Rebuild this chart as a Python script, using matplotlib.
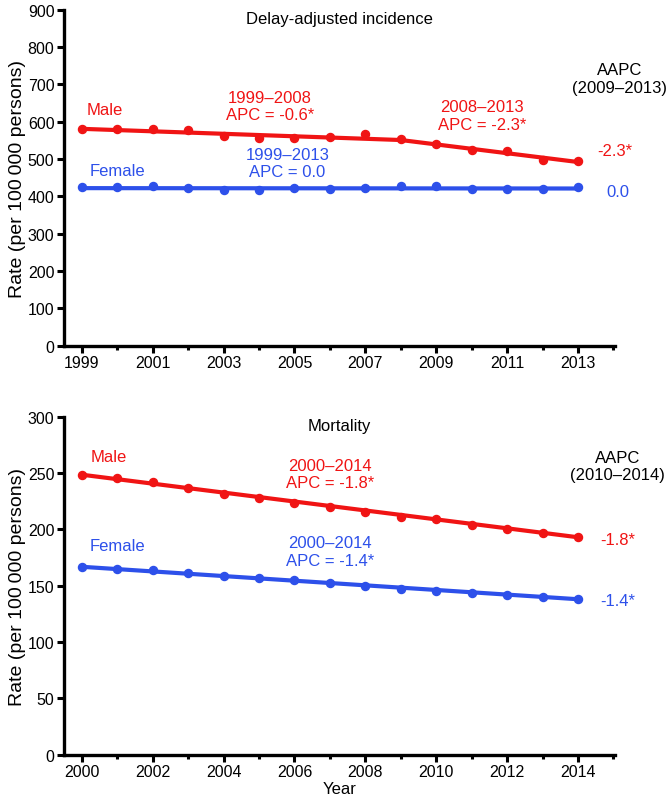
import matplotlib

matplotlib.use("Agg")
import matplotlib.pyplot as plt
from matplotlib.ticker import MultipleLocator

plt.rcParams["font.family"] = ["Liberation Sans", "DejaVu Sans"]

RED = "#f01414"
BLUE = "#2d50ea"

# incidence (delay-adjusted), rate per 100 000
inc_years = list(range(1999, 2014))
inc_male = [580, 580, 581, 578, 562, 557, 556, 559, 566, 553, 541, 525, 521, 497, 494]
inc_female = [426, 426, 428, 423, 418, 418, 422, 421, 422, 427, 427, 419, 420, 421, 425]
inc_male_fit_years = [1999, 2008, 2013]
inc_male_fit = [581, 551, 492]
inc_female_fit_years = [1999, 2013]
inc_female_fit = [422, 421]

# mortality, rate per 100 000
mort_years = list(range(2000, 2015))
mort_male = [248.5, 245.6, 242.4, 236.4, 231.1, 228.1, 223.4, 219.6,
             215.7, 211.3, 208.9, 204.2, 200.6, 196.5, 193.3]
mort_female = [166.9, 164.9, 163.7, 161.3, 158.4, 156.9, 154.8, 152.2,
               149.7, 147.3, 145.5, 143.5, 141.4, 140.2, 138.2]
mort_male_fit_years = [2000, 2014]
mort_male_fit = [248.5, 193.0]
mort_female_fit_years = [2000, 2014]
mort_female_fit = [166.8, 138.0]

YLABEL = "Rate (per 100\u2009000 persons)"
FS = 12


def style_axes(ax, xlim, ylim, ystep, xticks):
    ax.set_xlim(*xlim)
    ax.set_ylim(*ylim)
    for side in ("top", "right"):
        ax.spines[side].set_visible(False)
    for side in ("left", "bottom"):
        ax.spines[side].set_linewidth(2.4)
    ax.yaxis.set_major_locator(MultipleLocator(ystep))
    ax.set_xticks(xticks)
    ax.xaxis.set_minor_locator(MultipleLocator(1))
    ax.tick_params(which="major", length=5, width=2.2, labelsize=11.5, pad=2)
    ax.tick_params(which="minor", length=3, width=2.2)
    ax.tick_params(axis="y", which="minor", length=0)
    ax.set_ylabel(YLABEL, fontsize=14, labelpad=1)


def label(ax, x, y, s, color="black"):
    ax.text(x, y, s, color=color, ha="center", va="center", fontsize=FS,
            linespacing=1.2, clip_on=False)


fig = plt.figure(figsize=(6.68, 8.04), dpi=100)
ax1 = fig.add_axes([0.096, 0.569, 0.825, 0.4175])
ax2 = fig.add_axes([0.096, 0.060, 0.825, 0.4205])

# top panel: incidence
ax1.plot(inc_male_fit_years, inc_male_fit, color=RED, lw=3, solid_capstyle="round")
ax1.plot(inc_female_fit_years, inc_female_fit, color=BLUE, lw=3, solid_capstyle="round")
ax1.plot(inc_years, inc_male, "o", color=RED, ms=5.8)
ax1.plot(inc_years, inc_female, "o", color=BLUE, ms=5.8)
style_axes(ax1, (1998.5, 2014.05), (0, 900), 100, range(1999, 2014, 2))

ax1.text(0.5, 0.975, "Delay-adjusted incidence", transform=ax1.transAxes,
         ha="center", va="center", fontsize=FS)
label(ax1, 1999.65, 634, "Male", RED)
label(ax1, 2000.0, 469, "Female", BLUE)
label(ax1, 2004.3, 643, "1999\u20132008\nAPC = -0.6*", RED)
label(ax1, 2004.8, 489, "1999\u20132013\nAPC = 0.0", BLUE)
label(ax1, 2010.3, 617, "2008\u20132013\nAPC = -2.3*", RED)
label(ax1, 2014.18, 716, "AAPC\n(2009\u20132013)")
label(ax1, 2014.05, 522, "-2.3*", RED)
label(ax1, 2014.12, 412, "0.0", BLUE)

# bottom panel: mortality
ax2.plot(mort_male_fit_years, mort_male_fit, color=RED, lw=3, solid_capstyle="round")
ax2.plot(mort_female_fit_years, mort_female_fit, color=BLUE, lw=3, solid_capstyle="round")
ax2.plot(mort_years, mort_male, "o", color=RED, ms=5.8)
ax2.plot(mort_years, mort_female, "o", color=BLUE, ms=5.8)
style_axes(ax2, (1999.5, 2015.05), (0, 300), 50, range(2000, 2015, 2))
ax2.set_xlabel("Year", fontsize=12, labelpad=1)

ax2.text(0.5, 0.975, "Mortality", transform=ax2.transAxes,
         ha="center", va="center", fontsize=FS)
label(ax2, 2000.75, 265, "Male", RED)
label(ax2, 2001.0, 185.5, "Female", BLUE)
label(ax2, 2007.0, 249, "2000\u20132014\nAPC = -1.8*", RED)
label(ax2, 2007.0, 180.5, "2000\u20132014\nAPC = -1.4*", BLUE)
label(ax2, 2015.12, 256, "AAPC\n(2010\u20132014)")
label(ax2, 2015.13, 191, "-1.8*", RED)
label(ax2, 2015.13, 137, "-1.4*", BLUE)

fig.savefig("out.png", dpi=100)
